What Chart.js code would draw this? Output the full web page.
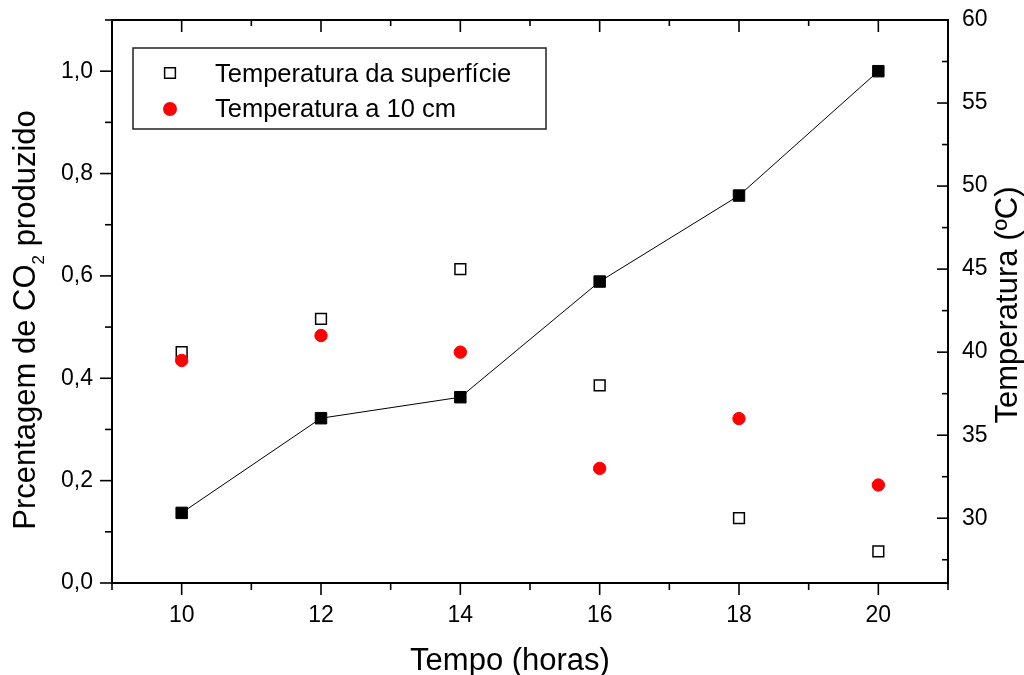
<!DOCTYPE html>
<html>
<head>
<meta charset="utf-8">
<script src="https://cdn.jsdelivr.net/npm/chart.js@4.4.0/dist/chart.umd.min.js"></script>
<style>
  body { margin: 0; background: #fff; }
  #chartBox { width: 1024px; height: 675px; }
</style>
</head>
<body>
<div id="chartBox"><canvas id="PlotCanvas" width="1024" height="675"></canvas></div>
<script>
var tempo = [10, 12, 14, 16, 18, 20];
var co2Produzido = [0.137, 0.322, 0.363, 0.589, 0.757, 1.0];
var tempSuperficie = [40, 42, 45, 38, 30, 28];
var temp10cm = [39.5, 41, 40, 33, 36, 32];

var xTicks = [10, 12, 14, 16, 18, 20];
var xMinorTicks = [9, 11, 13, 15, 17, 19, 21];
var co2Ticks = [0, 0.2, 0.4, 0.6, 0.8, 1.0];
var co2MinorTicks = [0.1, 0.3, 0.5, 0.7, 0.9, 1.1];
var tempTicks = [30, 35, 40, 45, 50, 55, 60];
var tempMinorTicks = [27.5, 32.5, 37.5, 42.5, 47.5, 52.5, 57.5];

var legendLabels = ['Temperatura da superfície', 'Temperatura a 10 cm'];

var FONT = '"Liberation Sans", Arial, sans-serif';
Chart.defaults.font.family = FONT;
Chart.defaults.color = '#000';

function toPoints(ys) {
    return tempo.map((t, i) => ({ x: t, y: ys[i] }));
}

// frame, ticks (major + minor, in/out like the original), titles and boxed legend
var axisFrame = {
    id: 'axisFrame',
    afterDraw: function (chart) {
        var ctx = chart.ctx, a = chart.chartArea;
        var sx = chart.scales.x, sl = chart.scales.y, sr = chart.scales.y1;
        ctx.save();
        ctx.strokeStyle = '#000';
        ctx.lineWidth = 2;
        ctx.strokeRect(a.left, a.top, a.right - a.left, a.bottom - a.top);
        ctx.lineWidth = 1.6;
        function tick(x1, y1, x2, y2) {
            ctx.beginPath(); ctx.moveTo(x1, y1); ctx.lineTo(x2, y2); ctx.stroke();
        }
        xTicks.forEach(function (v) {
            var p = sx.getPixelForValue(v);
            tick(p, a.bottom, p, a.bottom + 12);
            tick(p, a.top, p, a.top + 12);
        });
        xMinorTicks.forEach(function (v) {
            var p = sx.getPixelForValue(v);
            tick(p, a.bottom, p, a.bottom + 7);
            tick(p, a.top, p, a.top + 6);
        });
        co2Ticks.forEach(function (v) {
            var p = sl.getPixelForValue(v);
            tick(a.left, p, a.left - 12, p);
        });
        co2MinorTicks.forEach(function (v) {
            var p = sl.getPixelForValue(v);
            tick(a.left, p, a.left - 7, p);
        });
        tempTicks.forEach(function (v) {
            var p = sr.getPixelForValue(v);
            tick(a.right, p, a.right - 11, p);
        });
        tempMinorTicks.forEach(function (v) {
            var p = sr.getPixelForValue(v);
            tick(a.right, p, a.right - 6, p);
        });

        // axis titles
        ctx.fillStyle = '#000';
        ctx.textBaseline = 'alphabetic';
        ctx.font = '31px ' + FONT;
        ctx.textAlign = 'center';
        ctx.fillText('Tempo (horas)', 510, 670);

        ctx.save();
        ctx.translate(1017, 305);
        ctx.rotate(-Math.PI / 2);
        ctx.fillText('Temperatura (ºC)', 0, 0);
        ctx.restore();

        ctx.save();
        ctx.translate(35, 320);
        ctx.rotate(-Math.PI / 2);
        ctx.textAlign = 'left';
        var p1 = 'Prcentagem de CO', p2 = '2', p3 = ' produzido';
        ctx.font = '31px ' + FONT;
        var w1 = ctx.measureText(p1).width, w3 = ctx.measureText(p3).width;
        ctx.font = '17px ' + FONT;
        var w2 = ctx.measureText(p2).width;
        var x0 = -(w1 + w2 + w3) / 2;
        ctx.font = '31px ' + FONT;
        ctx.fillText(p1, x0, 0);
        ctx.fillText(p3, x0 + w1 + w2, 0);
        ctx.font = '17px ' + FONT;
        ctx.fillText(p2, x0 + w1, 9);
        ctx.restore();

        // legend box
        var lx = a.left + 21, ly = a.top + 28;
        ctx.lineWidth = 1.5;
        ctx.strokeStyle = '#222';
        ctx.strokeRect(lx, ly, 413, 81);
        ctx.fillStyle = '#fff';
        ctx.strokeStyle = '#000';
        Chart.helpers.drawPoint(ctx, { pointStyle: 'rect', radius: 7.6, borderWidth: 1.5, rotation: 0 }, lx + 37, ly + 25);
        ctx.fillStyle = '#ff0000';
        ctx.strokeStyle = '#ff0000';
        Chart.helpers.drawPoint(ctx, { pointStyle: 'circle', radius: 6.2, borderWidth: 1, rotation: 0 }, lx + 37, ly + 61);
        ctx.fillStyle = '#000';
        ctx.font = '25.5px ' + FONT;
        ctx.textAlign = 'left';
        ctx.fillText(legendLabels[0], lx + 82, ly + 34);
        ctx.fillText(legendLabels[1], lx + 82, ly + 69);
        ctx.restore();
    }
};

var ctx = document.getElementById('PlotCanvas').getContext('2d');
var data = {
    datasets: [{
        label: 'CO2 produzido',
        data: toPoints(co2Produzido),
        yAxisID: 'y',
        showLine: true,
        borderColor: '#000',
        borderWidth: 1,
        pointStyle: 'rect',
        pointRadius: 8.1,
        pointBackgroundColor: '#000',
        pointBorderColor: '#000',
        pointBorderWidth: 1,
        order: 3
    }, {
        label: legendLabels[0],
        data: toPoints(tempSuperficie),
        yAxisID: 'y1',
        showLine: false,
        pointStyle: 'rect',
        pointRadius: 7.6,
        pointBackgroundColor: '#fff',
        pointBorderColor: '#000',
        pointBorderWidth: 1.5,
        order: 2
    }, {
        label: legendLabels[1],
        data: toPoints(temp10cm),
        yAxisID: 'y1',
        showLine: false,
        pointStyle: 'circle',
        pointRadius: 6.2,
        pointBackgroundColor: '#ff0000',
        pointBorderColor: '#ff0000',
        pointBorderWidth: 1,
        order: 1
    }]
};
var options = {
    responsive: false,
    animation: false,
    layout: { padding: { top: 20, left: 0, right: 0, bottom: 0 } },
    plugins: {
        legend: { display: false },
        tooltip: { enabled: false }
    },
    scales: {
        x: {
            type: 'linear',
            position: 'bottom',
            min: 9,
            max: 21,
            grid: { display: false, drawTicks: false },
            border: { display: false },
            ticks: { font: { size: 23 }, color: '#000', padding: 19, callback: v => String(v) },
            afterBuildTicks: s => { s.ticks = xTicks.map(v => ({ value: v })); },
            afterFit: s => { s.height = 92; s.paddingLeft = 0; s.paddingRight = 0; }
        },
        y: {
            type: 'linear',
            position: 'left',
            min: 0,
            max: 1.1,
            grid: { display: false, drawTicks: false },
            border: { display: false },
            ticks: { font: { size: 23 }, color: '#000', padding: 19, callback: v => v.toFixed(1).replace('.', ',') },
            afterBuildTicks: s => { s.ticks = co2Ticks.map(v => ({ value: v })); },
            afterFit: s => { s.width = 112; s.paddingTop = 0; s.paddingBottom = 0; }
        },
        y1: {
            type: 'linear',
            position: 'right',
            min: 26.1,
            max: 60,
            grid: { display: false, drawTicks: false },
            border: { display: false },
            ticks: { font: { size: 23 }, color: '#000', padding: 14, callback: v => String(v) },
            afterBuildTicks: s => { s.ticks = tempTicks.map(v => ({ value: v })); },
            afterFit: s => { s.width = 76; s.paddingTop = 0; s.paddingBottom = 0; }
        }
    }
};
var currentChart = new Chart(ctx, {
    type: 'scatter',
    data: data,
    options: options,
    plugins: [axisFrame]
});
</script>
</body>
</html>
